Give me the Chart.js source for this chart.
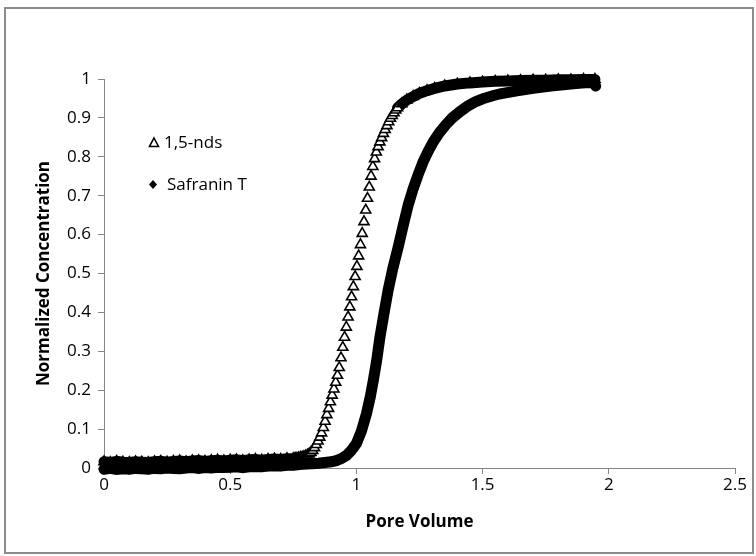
<!DOCTYPE html>
<html>
<head>
<meta charset="utf-8">
<script src="https://cdn.jsdelivr.net/npm/chart.js@4/dist/chart.umd.min.js"></script>
<style>
  html, body { margin: 0; padding: 0; background: #fff; }
  #wrap { width: 756px; height: 556px; }
</style>
</head>
<body>
<div id="wrap"><canvas id="breakthrough" width="756" height="556"></canvas></div>
<script>
// 1,5-nds (triangles)
const ndsX = [0.000, 0.025, 0.050, 0.075, 0.100, 0.125, 0.150, 0.175, 0.200, 0.225,
  0.250, 0.275, 0.300, 0.325, 0.350, 0.375, 0.400, 0.425, 0.450, 0.475,
  0.500, 0.525, 0.550, 0.575, 0.600, 0.625, 0.650, 0.675, 0.700, 0.725,
  0.750, 0.757, 0.764, 0.771, 0.778, 0.785, 0.792, 0.799, 0.806, 0.813,
  0.820, 0.827, 0.834, 0.841, 0.848, 0.855, 0.862, 0.869, 0.876, 0.883,
  0.890, 0.897, 0.904, 0.911, 0.918, 0.925, 0.932, 0.939, 0.946, 0.953,
  0.960, 0.967, 0.974, 0.981, 0.988, 0.995, 1.002, 1.009, 1.016, 1.023,
  1.030, 1.037, 1.044, 1.051, 1.058, 1.065, 1.072, 1.079, 1.086, 1.093,
  1.100, 1.107, 1.114, 1.121, 1.128, 1.135, 1.142, 1.149, 1.156, 1.163,
  1.180, 1.200, 1.225, 1.250, 1.280, 1.310, 1.350, 1.400, 1.450, 1.500,
  1.550, 1.600, 1.650, 1.700, 1.750, 1.800, 1.850, 1.900, 1.945]
const ndsY = [0.016, 0.014, 0.017, 0.015, 0.014, 0.016, 0.015, 0.014, 0.016, 0.017,
  0.015, 0.017, 0.018, 0.016, 0.018, 0.019, 0.017, 0.019, 0.020, 0.018,
  0.020, 0.021, 0.019, 0.021, 0.022, 0.020, 0.022, 0.023, 0.022, 0.024,
  0.024, 0.025, 0.025, 0.026, 0.027, 0.028, 0.029, 0.031, 0.033, 0.036,
  0.040, 0.045, 0.052, 0.060, 0.069, 0.079, 0.090, 0.104, 0.120, 0.137,
  0.153, 0.170, 0.187, 0.203, 0.220, 0.238, 0.258, 0.283, 0.310, 0.336,
  0.362, 0.388, 0.414, 0.440, 0.466, 0.492, 0.518, 0.545, 0.574, 0.603,
  0.633, 0.663, 0.693, 0.722, 0.750, 0.775, 0.795, 0.812, 0.826, 0.838,
  0.849, 0.860, 0.870, 0.880, 0.890, 0.899, 0.906, 0.913, 0.920, 0.926,
  0.936, 0.946, 0.955, 0.963, 0.970, 0.976, 0.982, 0.987, 0.990, 0.992,
  0.994, 0.995, 0.996, 0.997, 0.997, 0.998, 0.998, 0.999, 0.999]

// Safranin T (diamonds)
const safX = [0.000, 0.025, 0.050, 0.075, 0.100, 0.125, 0.150, 0.175, 0.200, 0.225,
  0.250, 0.275, 0.300, 0.325, 0.350, 0.375, 0.400, 0.425, 0.450, 0.475,
  0.500, 0.525, 0.550, 0.575, 0.600, 0.625, 0.650, 0.675, 0.700, 0.725,
  0.750, 0.775, 0.800, 0.825, 0.850, 0.875, 0.900, 0.920, 0.940, 0.960,
  0.980, 1.000, 1.020, 1.040, 1.055, 1.067, 1.080, 1.093, 1.110, 1.126,
  1.145, 1.166, 1.186, 1.206, 1.225, 1.245, 1.265, 1.285, 1.305, 1.330,
  1.355, 1.380, 1.410, 1.440, 1.470, 1.500, 1.540, 1.570, 1.630, 1.700,
  1.770, 1.830, 1.880, 1.920, 1.940, 1.948]
const safY = [-0.003, -0.001, -0.004, -0.002, -0.003, -0.001, -0.002, -0.003, -0.001, -0.002,
  0.000, -0.001, -0.002, 0.000, 0.001, -0.001, 0.001, 0.000, 0.002, 0.001,
  0.002, 0.003, 0.001, 0.003, 0.004, 0.003, 0.005, 0.006, 0.005, 0.007,
  0.007, 0.009, 0.010, 0.011, 0.012, 0.014, 0.016, 0.019, 0.024, 0.032,
  0.045, 0.063, 0.095, 0.140, 0.183, 0.225, 0.275, 0.335, 0.400, 0.458,
  0.515, 0.569, 0.625, 0.678, 0.718, 0.755, 0.788, 0.815, 0.839, 0.863,
  0.883, 0.900, 0.916, 0.930, 0.941, 0.949, 0.957, 0.962, 0.969, 0.976,
  0.982, 0.986, 0.989, 0.991, 0.990, 0.982]

const seriesNames = ['1,5-nds', 'Safranin T']
const xTitle = 'Pore Volume'
const yTitle = 'Normalized Concentration'

const axisColor = '#868686'
const fontFamily = '"Open Sans", "Noto Sans", sans-serif'

const toPoints = (xs, ys) => xs.map((x, i) => ({ x: x, y: ys[i] }))
const tickText = (v) => String(Number(v.toFixed(1)))

// the steep part of the 1,5-nds curve shows single open triangles
const isOpen = (y) => y > 0.03 && y < 0.93

const frame = {
    id: 'frame',
    beforeDraw(chart) {
        const c = chart.ctx
        c.save()
        c.fillStyle = '#fff'
        c.fillRect(0, 0, chart.width, chart.height)
        c.strokeStyle = '#8c8c8c'
        c.lineWidth = 2
        c.strokeRect(5, 8, 748, 545)
        c.restore()
    }
}

const sideLegend = {
    id: 'sideLegend',
    afterDraw(chart) {
        const c = chart.ctx
        c.save()
        c.strokeStyle = '#000'
        c.fillStyle = '#fff'
        c.lineWidth = 1.6
        c.beginPath()
        c.moveTo(154, 138)
        c.lineTo(158.5, 146.5)
        c.lineTo(149.5, 146.5)
        c.closePath()
        c.fill()
        c.stroke()
        c.fillStyle = '#000'
        c.beginPath()
        c.moveTo(153, 180)
        c.lineTo(157, 184.5)
        c.lineTo(153, 189)
        c.lineTo(149, 184.5)
        c.closePath()
        c.fill()
        c.font = '17px ' + fontFamily
        c.textBaseline = 'middle'
        c.fillText(seriesNames[0], 164, 143)
        c.fillText(seriesNames[1], 167, 185)
        c.restore()
    }
}

const ctx = document.getElementById('breakthrough').getContext('2d')
const chart = new Chart(ctx, {
    type: 'scatter',
    data: {
        datasets: [
            {
                label: seriesNames[0],
                data: toPoints(ndsX, ndsY),
                showLine: true,
                borderColor: '#000',
                borderWidth: 11,
                borderCapStyle: 'round',
                segment: {
                    borderColor: (s) => (isOpen(s.p0.parsed.y) && isOpen(s.p1.parsed.y)) ? 'rgba(0,0,0,0)' : '#000'
                },
                pointStyle: 'triangle',
                pointRadius: 5.8,
                pointBorderWidth: 1.6,
                pointBorderColor: '#000',
                pointBackgroundColor: (p) => (p.raw && isOpen(p.raw.y)) ? '#fff' : '#000',
                clip: false
            },
            {
                label: seriesNames[1],
                data: toPoints(safX, safY),
                showLine: true,
                borderColor: '#000',
                borderWidth: 11,
                borderCapStyle: 'round',
                pointStyle: 'rectRot',
                pointRadius: 5.5,
                pointBorderWidth: 0,
                pointBackgroundColor: '#000',
                clip: false
            }
        ]
    },
    options: {
        responsive: false,
        animation: false,
        events: [],
        layout: {
            padding: { left: 20, right: 21, top: 79, bottom: 24 }
        },
        elements: {
            line: { tension: 0 }
        },
        plugins: {
            legend: { display: false },
            tooltip: { enabled: false }
        },
        scales: {
            x: {
                type: 'linear',
                min: 0,
                max: 2.5,
                afterFit: (scale) => { scale.height = 64 },
                border: { display: true, color: axisColor, width: 1 },
                grid: {
                    display: true,
                    drawOnChartArea: false,
                    drawTicks: true,
                    tickLength: 6,
                    color: axisColor
                },
                ticks: {
                    stepSize: 0.5,
                    color: '#000',
                    padding: 1,
                    maxRotation: 0,
                    callback: tickText,
                    font: { family: fontFamily, size: 17 }
                },
                title: {
                    display: true,
                    text: xTitle,
                    color: '#000',
                    padding: { top: 4, bottom: 0 },
                    font: { family: fontFamily, size: 17, weight: 'bold' }
                }
            },
            y: {
                type: 'linear',
                min: 0,
                max: 1,
                afterFit: (scale) => { scale.width = 84 },
                border: { display: true, color: axisColor, width: 1 },
                grid: {
                    display: true,
                    drawOnChartArea: false,
                    drawTicks: true,
                    tickLength: 6,
                    color: axisColor
                },
                ticks: {
                    stepSize: 0.1,
                    color: '#000',
                    padding: 7,
                    callback: tickText,
                    font: { family: fontFamily, size: 17 }
                },
                title: {
                    display: true,
                    text: yTitle,
                    color: '#000',
                    padding: { top: 14, bottom: 0 },
                    font: { family: fontFamily, size: 17, weight: 'bold' }
                }
            }
        }
    },
    plugins: [frame, sideLegend]
})
</script>
</body>
</html>
